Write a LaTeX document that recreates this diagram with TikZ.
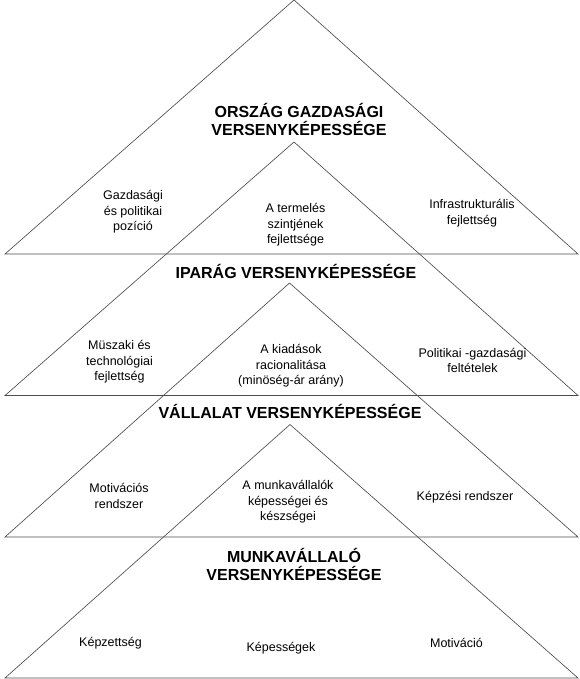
\documentclass[tikz,border=0pt]{standalone}
\usepackage{fontspec}
\setmainfont{Liberation Sans}
\begin{document}
\begin{tikzpicture}[x=1pt,y=-1pt,
  edge/.style={draw=black!70,line width=0.65pt,line join=miter},
  lbl/.style={align=center,inner sep=0pt,font=\fontsize{12.5}{15.5}\selectfont},
  head/.style={align=center,inner sep=0pt,font=\bfseries\fontsize{16}{18}\selectfont}]
\useasboundingbox (0,0) rectangle (580,679);
% triangle vertices
\coordinate (a1) at (294,0);     \coordinate (l1) at (5,254);   \coordinate (r1) at (578,254);
\coordinate (a2) at (294,142);   \coordinate (l2) at (5,395.5); \coordinate (r2) at (578,395.5);
\coordinate (a3) at (289.5,283); \coordinate (l3) at (5,537);   \coordinate (r3) at (578,537);
\coordinate (a4) at (290,424.5); \coordinate (l4) at (5,678);   \coordinate (r4) at (578,678);
\draw[edge] (a1) -- (l1) -- (r1) -- cycle;
\draw[edge] (a2) -- (l2) -- (r2) -- cycle;
\draw[edge] (a3) -- (l3) -- (r3) -- cycle;
\draw[edge] (a4) -- (l4) -- (r4) -- cycle;
% headings
\node[head] (h1) at (299,119) {ORSZÁG GAZDASÁGI\\VERSENYKÉPESSÉGE};
\node[head] (h2) at (296,271) {IPARÁG VERSENYKÉPESSÉGE};
\node[head] (h3) at (290,411) {VÁLLALAT VERSENYKÉPESSÉGE};
\node[head] (h4) at (294,564) {MUNKAVÁLLALÓ\\VERSENYKÉPESSÉGE};
% band 1
\node[lbl] (t11) at (133,212) {Gazdasági\\és politikai\\pozíció};
\node[lbl] (t12) at (295.5,225) {A termelés\\szintjének\\fejlettsége};
\node[lbl] (t13) at (472,213) {Infrastrukturális\\fejlettség};
% band 2
\node[lbl] (t21) at (119.5,362) {Müszaki és\\technológiai\\fejlettség};
\node[lbl] (t22) at (291,366) {A kiadások\\racionalitása\\(minöség-ár arány)};
\node[lbl] (t23) at (472.5,360.5) {Politikai -gazdasági\\feltételek};
% band 3
\node[lbl] (t31) at (119,496) {Motivációs\\rendszer};
\node[lbl] (t32) at (288,502) {A munkavállalók\\képességei és\\készségei};
\node[lbl] (t33) at (465,497) {Képzési rendszer};
% band 4
\node[lbl] (t41) at (110.5,643) {Képzettség};
\node[lbl] (t42) at (281,648) {Képességek};
\node[lbl] (t43) at (456.5,643) {Motiváció};
\end{tikzpicture}
\end{document}
